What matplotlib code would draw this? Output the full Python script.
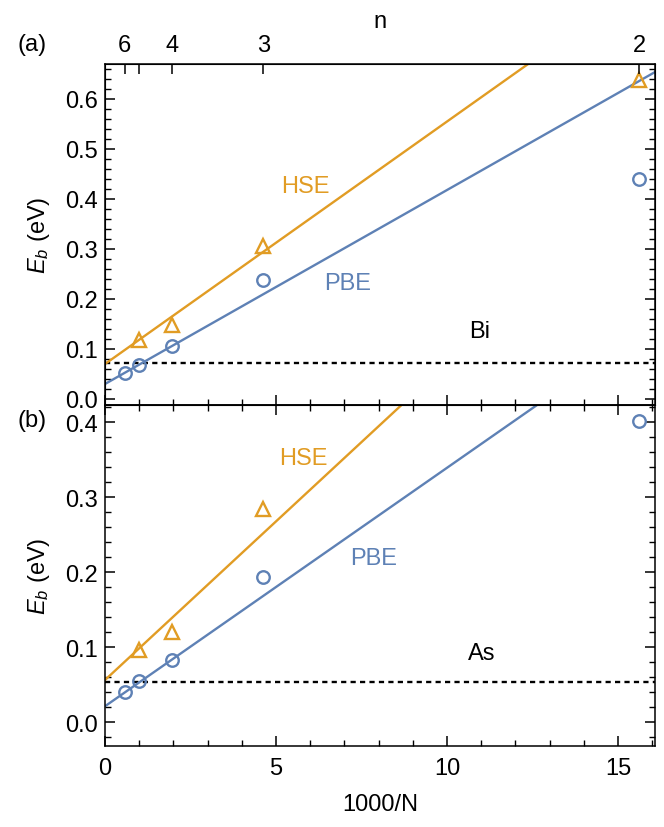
import numpy as np
import matplotlib
matplotlib.use("Agg")
import matplotlib.pyplot as plt
from matplotlib.ticker import MultipleLocator, FixedLocator

plt.rcParams['font.family'] = ['Liberation Sans', 'DejaVu Sans']
plt.rcParams['mathtext.fontset'] = 'custom'
plt.rcParams['mathtext.it'] = 'Liberation Sans:italic'
plt.rcParams['mathtext.rm'] = 'Liberation Sans'

# ---- data ----
n_vals = [6, 5, 4, 3, 2]
N_vals = [1728, 1000, 512, 216, 64]          # number of atoms
x_all = [1000 / N for N in N_vals]

bi_pbe = [0.052, 0.068, 0.106, 0.238, 0.440]
bi_hse_N = [1000, 512, 216, 64]
bi_hse = [0.118, 0.148, 0.306, 0.638]
bi_pbe_fit = [0.030, 0.0388]   # intercept, slope
bi_hse_fit = [0.070, 0.0485]
bi_ref = 0.073

as_pbe = [0.040, 0.055, 0.083, 0.193, 0.402]
as_hse_N = [1000, 512, 216]
as_hse = [0.096, 0.120, 0.284]
as_pbe_fit = [0.021, 0.0318]
as_hse_fit = [0.056, 0.0423]
as_ref = 0.053

top_tick_n = [6, 5, 4, 3, 2]
top_tick_labels = ['6', '', '4', '3', '2']

blue = '#5E81B5'
orange = '#E19C24'
FS = 17

fig = plt.figure(figsize=(6.64, 8.28), dpi=100)
L, R = 105 / 664, 655 / 664
W = R - L
ax1 = fig.add_axes([L, 1 - 406 / 828, W, 341 / 828])
ax2 = fig.add_axes([L, 1 - 747 / 828, W, 341 / 828])

xmax = 16.08
xl = np.array([0, xmax])

def panel(ax, pbe_x, pbe, hse_x, hse, pfit, hfit, ref, ylim, label_pos, elem):
    ax.plot(xl, pfit[0] + pfit[1] * xl, color=blue, lw=1.7, zorder=2)
    ax.plot(xl, hfit[0] + hfit[1] * xl, color=orange, lw=1.7, zorder=2)
    ax.axhline(ref, color='black', lw=1.7, dashes=(2.2, 1.8), zorder=1)
    ax.plot(pbe_x, pbe, 'o', ms=9, mfc='none', mec=blue, mew=1.7, zorder=3)
    ax.plot(hse_x, hse, '^', ms=10, mfc='none', mec=orange, mew=1.7, zorder=3)
    ax.set_xlim(0, xmax)
    ax.set_ylim(*ylim)
    ax.xaxis.set_major_locator(MultipleLocator(5))
    ax.xaxis.set_minor_locator(MultipleLocator(1))
    ax.yaxis.set_major_locator(MultipleLocator(0.1))
    ax.yaxis.set_minor_locator(MultipleLocator(0.02))
    ax.yaxis.set_major_formatter(matplotlib.ticker.FormatStrFormatter('%.1f'))
    ax.tick_params(which='both', direction='in', right=True, top=True, labelsize=FS)
    ax.tick_params(which='major', length=7, width=1.1, pad=5)
    ax.tick_params(which='minor', length=4, width=1.0)
    for s in ax.spines.values():
        s.set_linewidth(1.1)
    ax.set_ylabel('$E_b$ (eV)', fontsize=FS)
    ax.yaxis.set_label_coords((52 - 105) / 550, 0.5)
    (hx, hy), (px, py), (ex, ey) = label_pos
    ax.text(hx, hy, 'HSE', color=orange, fontsize=FS, ha='center', va='center')
    ax.text(px, py, 'PBE', color=blue, fontsize=FS, ha='center', va='center')
    ax.text(ex, ey, elem, color='black', fontsize=FS, ha='center', va='center')

panel(ax1, x_all, bi_pbe, [1000 / N for N in bi_hse_N], bi_hse,
      bi_pbe_fit, bi_hse_fit, bi_ref, (-0.012, 0.67),
      [(5.85, 0.426), (7.1, 0.232), (10.95, 0.136)], 'Bi')
panel(ax2, x_all, as_pbe, [1000 / N for N in as_hse_N], as_hse,
      as_pbe_fit, as_hse_fit, as_ref, (-0.032, 0.4227),
      [(5.8, 0.352), (7.85, 0.219), (11.0, 0.092)], 'As')

ax1.tick_params(axis='x', which='both', top=False, labelbottom=False)
ax2.set_xlabel('1000/N', fontsize=FS)
ax2.xaxis.set_label_coords(0.5, -(794 - 747) / 341)
ax2.tick_params(axis='x', pad=8)

sec = ax1.twiny()
sec.set_xlim(0, xmax)
sec.xaxis.set_major_locator(FixedLocator([125 / n ** 3 for n in top_tick_n]))
sec.set_xticklabels(top_tick_labels)
sec.tick_params(which='major', direction='in', length=7, width=1.1, labelsize=FS, pad=6)
sec.xaxis.set_minor_locator(FixedLocator([]))
sec.set_xlabel('n', fontsize=FS)
sec.xaxis.set_label_coords(0.5, 1 + (65 - 28) / 341)

fig.text(32 / 664, 1 - 45 / 828, '(a)', fontsize=FS, ha='center', va='center')
fig.text(32 / 664, 1 - 421 / 828, '(b)', fontsize=FS, ha='center', va='center')

fig.savefig('out.png', dpi=100)
